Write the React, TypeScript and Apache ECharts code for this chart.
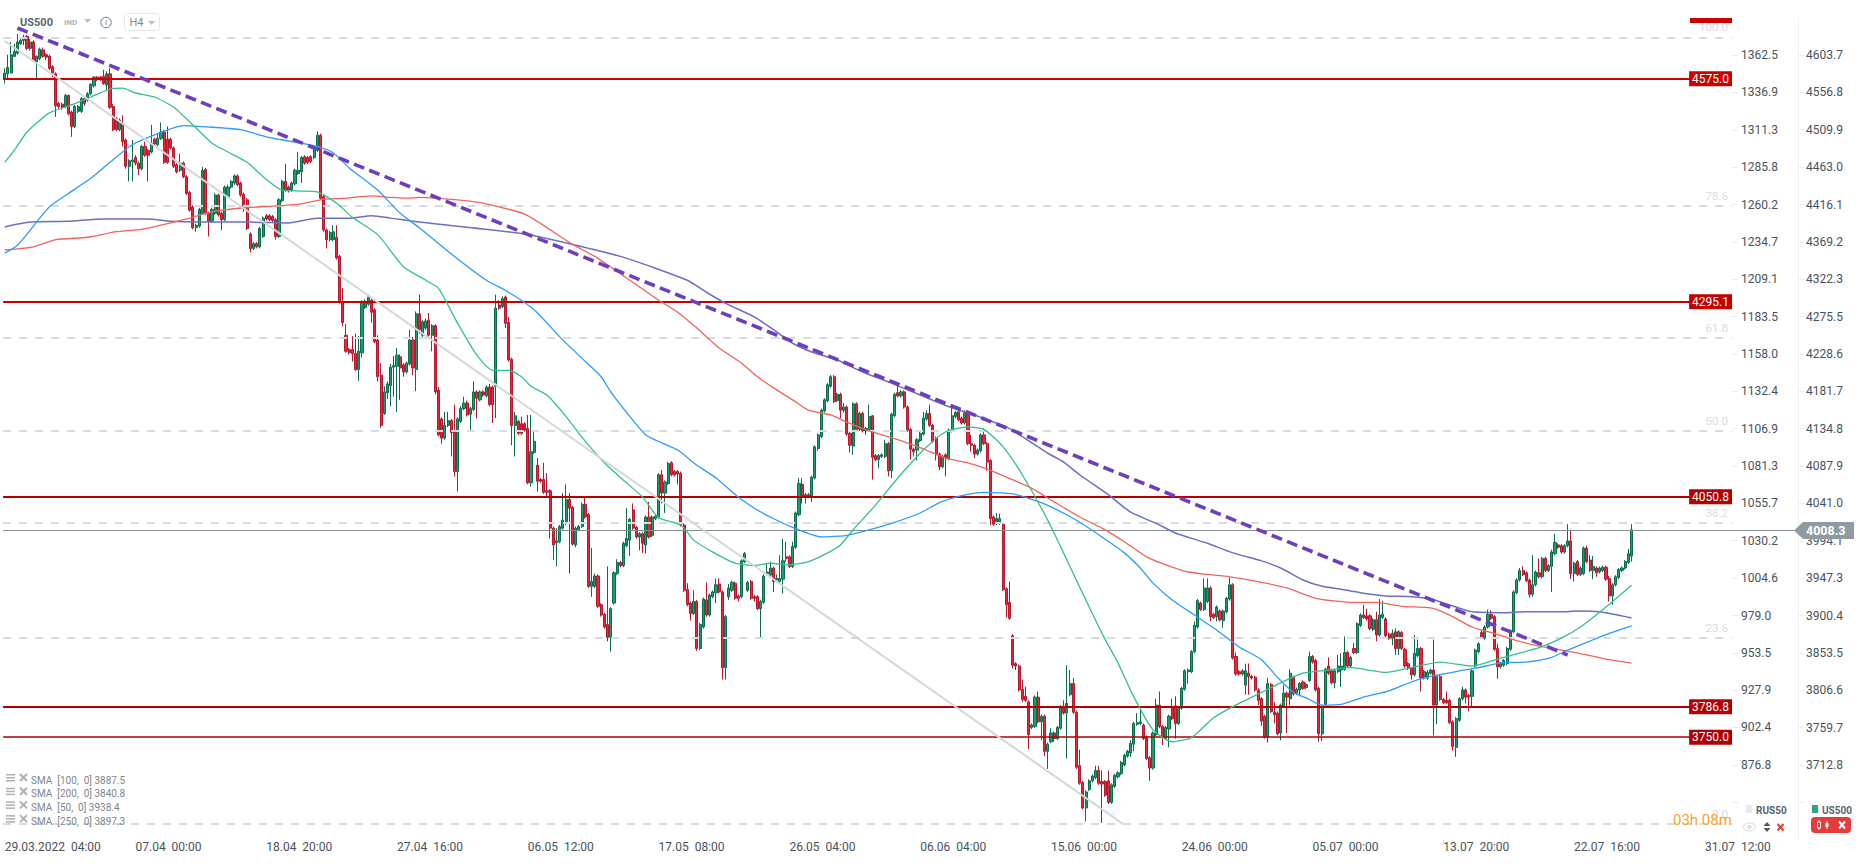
import React, { useEffect, useRef } from "react";
import * as echarts from "echarts";

// Each candle row: [open, close, low, high]
const candlesA = [
[4573,4581,4568,4587],[4580,4588,4574,4604],[4581,4604,4581,4620],[4602,4608,4601,4618],[4606,4620,4604,4630],[4618,4622,4616,4625],[4622,4626,4616,4629],[4627,4612,4610,4629],[4612,4620,4609,4624],[4620,4597,4595,4622],
[4595,4602,4574,4603],[4599,4611,4597,4613],[4610,4602,4600,4613],[4604,4601,4597,4606],[4602,4587,4585,4604],[4589,4581,4576,4591],[4580,4540,4526,4582],[4543,4539,4536,4545],[4542,4538,4535,4544],[4539,4553,4537,4555],
[4553,4530,4528,4554],[4532,4514,4501,4534],[4514,4539,4512,4541],[4533,4539,4531,4541],[4533,4549,4531,4551],[4549,4543,4540,4551],[4547,4555,4545,4557],[4555,4567,4553,4568],[4565,4576,4563,4577],[4576,4573,4571,4577],
[4576,4573,4571,4577],[4577,4568,4566,4585],[4566,4580,4560,4583],[4580,4538,4536,4587],[4539,4510,4508,4542],[4524,4510,4508,4526],[4510,4522,4508,4524],[4518,4495,4489,4528],[4497,4464,4461,4499],[4464,4471,4445,4473],
[4470,4472,4445,4497],[4475,4468,4465,4478],[4468,4461,4453,4470],[4461,4489,4459,4491],[4489,4478,4476,4495],[4484,4478,4445,4486],[4482,4493,4480,4516],[4498,4492,4490,4500],[4491,4499,4489,4505],[4499,4507,4497,4519],
[4507,4469,4467,4510],[4498,4469,4467,4514],[4498,4487,4485,4500],[4487,4464,4462,4489],[4466,4457,4455,4468],[4459,4468,4457,4480],[4468,4451,4449,4470],[4451,4430,4428,4453],[4431,4409,4407,4433],[4413,4387,4385,4415],
[4387,4390,4382,4392],[4389,4410,4387,4412],[4405,4459,4403,4463],[4460,4405,4403,4462],[4405,4395,4376,4407],[4395,4410,4393,4412],[4405,4428,4403,4430],[4428,4403,4401,4430],[4405,4397,4384,4407],[4397,4438,4395,4440],
[4426,4438,4424,4441],[4438,4445,4436,4447],[4443,4452,4441,4454],[4452,4441,4439,4454],[4443,4428,4426,4445],[4429,4411,4407,4431],[4422,4386,4384,4424],[4379,4361,4356,4381],[4361,4367,4359,4369],[4367,4363,4361,4369],
[4363,4386,4361,4388],[4376,4399,4374,4401],[4402,4398,4396,4404],[4402,4397,4395,4404],[4401,4396,4394,4403],[4397,4376,4372,4399],[4376,4422,4374,4424],[4421,4445,4419,4447],[4445,4434,4432,4467],[4438,4433,4431,4440],
[4434,4443,4432,4445],[4442,4459,4440,4461],[4455,4459,4453,4482],[4457,4475,4443,4477],[4476,4468,4466,4478],[4475,4469,4467,4477],[4476,4470,4468,4478],[4475,4486,4473,4488],[4484,4503,4482,4508],[4503,4424,4422,4505],
[4426,4384,4382,4428],[4384,4372,4361,4386],[4372,4381,4370,4383],[4372,4382,4370,4390],[4375,4349,4347,4390],[4351,4294,4292,4353],[4294,4268,4263,4311],[4252,4232,4230,4266],[4234,4230,4228,4236],[4234,4229,4219,4251],
[4229,4209,4207,4254],[4209,4232,4195,4251],[4230,4294,4224,4296],[4287,4294,4285,4297],[4291,4300,4289,4303],[4296,4281,4268,4298],[4284,4244,4242,4286],[4246,4200,4194,4252],[4202,4139,4136,4217],[4154,4181,4152,4188],
[4180,4191,4172,4194],[4189,4212,4163,4216],[4212,4214,4175,4226],[4213,4227,4156,4236],[4225,4211,4171,4228],[4215,4206,4200,4217],[4206,4217,4204,4219],[4216,4246,4214,4259],[4246,4211,4202,4250],[4209,4279,4182,4282],
[4279,4259,4254,4303],
];
const candlesB = [
[4252,4269,4250,4271],[4261,4270,4259,4273],[4271,4252,4250,4280],[4252,4264,4232,4266],[4264,4181,4178,4266],[4183,4127,4125,4187],[4147,4123,4116,4149],[4123,4139,4121,4156],[4139,4145,4137,4156],[4145,4130,4100,4147],
[4132,4081,4075,4165],[4081,4147,4056,4149],[4144,4160,4142,4163],[4160,4167,4158,4175],[4167,4152,4150,4170],[4153,4160,4133,4162],[4159,4181,4157,4194],[4181,4173,4148,4183],[4171,4181,4169,4183],[4181,4177,4175,4183],
[4176,4187,4174,4189],[4187,4165,4163,4191],[4187,4165,4142,4189],[4188,4286,4148,4303],[4290,4286,4284,4296],[4288,4298,4286,4301],[4300,4267,4261,4302],[4268,4221,4219,4275],[4222,4139,4114,4224],[4139,4151,4100,4156],
[4144,4129,4127,4146],[4141,4129,4127,4150],[4141,4133,4131,4143],[4135,4067,4065,4152],[4067,4106,4062,4152],[4105,4119,4103,4133],[4089,4069,4056,4098],[4071,4069,4067,4073],[4071,4055,4053,4092],[4057,4055,4050,4079],
[4057,4010,3997,4059],[4010,3989,3970,4012],[3992,3994,3962,4010],[3993,4012,3991,4014],[4010,4020,4008,4054],[4016,4046,4014,4065],[4046,4035,3953,4054],[4036,3990,3988,4038],[3989,4010,3986,4012],[4008,4012,4006,4014],
[4012,4040,4010,4042],[4040,4024,4022,4049],[4027,3937,3935,4029],[3937,3943,3924,3985],[3937,3950,3935,3953],[3950,3912,3910,3952],[3914,3901,3899,3916],[3902,3886,3884,3904],[3889,3873,3868,3962],[3873,3909,3855,3911],
[3916,3954,3914,3956],[3953,3967,3951,3971],[3967,3963,3961,3969],[3963,3991,3961,3993],[3988,3997,3986,4035],[3995,4021,3975,4023],[4033,4010,4008,4041],[4011,3999,3997,4013],[3999,4003,3982,4005],[4003,3991,3979,4005],
[3989,4024,3978,4026],[4024,3999,3997,4043],[4001,4024,3999,4026],[4022,4025,4020,4027],[4024,4077,4022,4079],[4077,4054,4041,4083],[4054,4068,4029,4070],[4066,4091,4064,4093],[4092,4077,4075,4094],[4081,4077,4075,4083],
[4081,4078,4065,4083],[4079,4014,4012,4081],[4014,3932,3930,4016],[3933,3914,3912,3941],[3916,3903,3894,3918],[3903,3918,3901,3932],[3918,3859,3856,3920],[3859,3889,3857,3891],[3886,3921,3884,3923],[3920,3901,3899,3942],
[3901,3926,3899,3928],[3924,3930,3922,3932],[3929,3939,3916,3947],[3940,3930,3928,3947],[3930,3835,3820,3932],[3835,3899,3820,3901],[3924,3935,3920,3940],[3932,3942,3930,3944],[3941,3922,3920,3943],[3925,3922,3918,3927],
[3924,3969,3922,3971],[3968,3978,3966,3980],[3932,3942,3930,3944],[3943,3922,3920,3945],[3924,3922,3918,3926],[3924,3909,3907,3926],[3909,3918,3873,3920],[3917,3950,3915,3952],[3953,3955,3951,3966],[3951,3960,3949,3968],
[3960,3943,3930,3962],[3945,3947,3943,3952],[3943,3947,3940,3976],[3946,3969,3928,3997],[3974,3972,3968,3993],[3974,3962,3960,3976],[3962,3987,3960,3993],[3986,4029,3984,4031],[4027,4066,4025,4073],[4065,4050,4041,4073],
[4050,4052,4041,4054],[4052,4050,4048,4054],[4050,4074,4043,4076],[4073,4112,4071,4114],[4110,4127,4107,4129],[4125,4158,4123,4160],[4157,4171,4155,4173],[4170,4190,4168,4192],[4188,4200,4186,4202],[4200,4169,4167,4202],
[4170,4178,4168,4180],[4178,4158,4148,4180],
];
const candlesC = [
[4158,4162,4155,4167],[4162,4128,4126,4164],[4129,4114,4105,4131],[4113,4166,4102,4168],[4166,4134,4132,4168],[4134,4154,4132,4156],[4154,4132,4130,4156],[4132,4135,4127,4137],[4134,4150,4132,4165],[4151,4099,4071,4152],
[4101,4096,4094,4103],[4096,4101,4085,4103],[4100,4102,4098,4104],[4100,4116,4098,4121],[4116,4082,4075,4118],[4082,4153,4073,4155],[4151,4178,4149,4180],[4180,4176,4174,4190],[4176,4181,4174,4183],[4181,4162,4160,4183],
[4162,4133,4131,4164],[4134,4109,4096,4136],[4109,4106,4100,4111],[4108,4121,4095,4123],[4120,4129,4118,4131],[4128,4148,4126,4156],[4147,4154,4145,4158],[4154,4139,4137,4165],[4139,4119,4117,4141],[4123,4102,4095,4125],
[4103,4087,4083,4105],[4087,4100,4085,4102],[4102,4098,4075,4104],[4097,4133,4095,4135],[4132,4151,4130,4162],[4150,4155,4148,4157],[4156,4146,4144,4158],[4148,4142,4140,4150],[4142,4155,4140,4158],[4155,4116,4114,4157],
[4116,4114,4106,4127],[4114,4103,4098,4116],[4103,4108,4101,4110],[4107,4127,4105,4129],[4127,4116,4114,4135],[4116,4093,4082,4118],[4095,4022,4014,4097],[4024,4015,4013,4026],[4016,4022,4014,4029],[4016,4022,4014,4028],
[4015,3933,3931,4017],[3934,3914,3898,3936],[3917,3897,3895,3943],[3875,3838,3834,3877],[3840,3837,3832,3842],[3837,3807,3805,3839],[3808,3795,3792,3820],[3799,3794,3792,3811],[3792,3751,3733,3794],[3760,3763,3758,3765],
[3761,3798,3759,3800],[3798,3767,3765,3805],[3767,3774,3744,3776],[3774,3730,3724,3776],[3730,3739,3708,3741],[3742,3753,3740,3759],[3753,3746,3742,3755],[3746,3760,3744,3762],[3759,3786,3757,3788],[3786,3778,3776,3794],
[3778,3790,3721,3838],[3801,3815,3799,3832],[3815,3779,3777,3822],[3779,3710,3708,3781],[3712,3690,3688,3732],[3691,3659,3657,3693],[3659,3679,3642,3681],[3682,3693,3680,3695],[3693,3699,3691,3701],[3697,3706,3695,3712],
[3706,3690,3688,3712],[3692,3689,3640,3706],[3692,3675,3673,3694],[3693,3666,3664,3706],[3666,3688,3664,3690],[3686,3700,3684,3702],[3698,3703,3696,3705],[3702,3716,3700,3718],[3713,3725,3711,3727],[3724,3730,3722,3732],
[3728,3740,3723,3744],[3739,3765,3730,3767],[3764,3766,3762,3778],[3765,3767,3763,3782],[3763,3746,3744,3765],[3748,3721,3719,3750],[3722,3709,3693,3724],[3709,3753,3707,3755],[3751,3788,3749,3796],[3788,3761,3759,3805],
[3761,3748,3738,3763],[3746,3760,3744,3762],[3758,3774,3735,3776],[3786,3771,3769,3796],[3787,3765,3746,3799],[3765,3784,3763,3786],[3784,3809,3782,3811],[3808,3831,3806,3833],[3830,3832,3815,3834],[3830,3855,3828,3857],
[3855,3888,3853,3893],[3886,3919,3884,3921],[3916,3908,3906,3918],[3908,3935,3906,3947],[3918,3935,3916,3947],[3935,3899,3893,3937],[3902,3898,3896,3904],[3899,3911,3893,3913],[3906,3895,3893,3908],[3894,3906,3885,3908],
[3905,3922,3903,3924],[3921,3939,3919,3948],[3939,3847,3845,3941],[3849,3827,3825,3854],[3830,3827,3825,3832],[3827,3831,3825,3833],[3813,3831,3801,3840],[3828,3824,3801,3840],[3824,3822,3820,3826],[3823,3807,3805,3825],
[3807,3794,3788,3809],
];
const candlesD = [
[3796,3768,3762,3798],[3774,3748,3746,3776],[3748,3815,3741,3822],[3814,3780,3778,3816],[3779,3776,3765,3792],[3778,3752,3750,3780],[3753,3788,3744,3790],[3786,3803,3784,3813],[3803,3798,3753,3805],[3796,3828,3788,3833],
[3823,3802,3800,3825],[3803,3808,3801,3810],[3807,3815,3799,3817],[3817,3809,3807,3819],[3810,3814,3808,3816],[3819,3849,3817,3855],[3849,3842,3840,3851],[3844,3807,3805,3846],[3809,3752,3742,3811],[3752,3786,3743,3788],
[3789,3833,3787,3835],[3837,3828,3826,3848],[3831,3816,3814,3833],[3816,3831,3809,3833],[3830,3837,3828,3851],[3832,3837,3811,3853],[3833,3854,3831,3874],[3854,3837,3835,3856],[3837,3848,3835,3850],[3859,3854,3852,3866],
[3854,3890,3852,3892],[3888,3901,3886,3903],[3901,3898,3896,3914],[3900,3896,3894,3909],[3900,3884,3882,3902],[3883,3895,3881,3897],[3895,3876,3868,3905],[3876,3901,3874,3921],[3898,3902,3896,3919],[3896,3875,3873,3898],
[3877,3872,3870,3879],[3872,3878,3863,3883],[3880,3859,3851,3884],[3859,3880,3851,3882],[3879,3859,3857,3881],[3858,3837,3835,3860],[3840,3834,3832,3842],[3834,3826,3820,3836],[3826,3853,3824,3876],[3850,3859,3848,3870],
[3859,3822,3805,3861],[3822,3830,3820,3832],[3822,3829,3820,3832],[3828,3832,3826,3834],[3832,3788,3750,3870],[3788,3824,3764,3826],[3824,3795,3793,3826],[3795,3791,3789,3797],[3794,3791,3789,3805],[3794,3766,3764,3796],
[3767,3736,3731,3769],[3735,3771,3723,3773],[3769,3796,3767,3798],[3796,3807,3794,3811],[3807,3798,3790,3809],[3800,3798,3780,3802],[3799,3831,3786,3833],[3837,3857,3835,3859],[3855,3865,3853,3867],[3879,3873,3871,3882],
[3872,3886,3870,3888],[3886,3902,3884,3908],[3902,3897,3895,3907],[3899,3858,3856,3901],[3859,3836,3821,3865],[3836,3840,3834,3842],[3838,3844,3836,3846],[3840,3859,3838,3861],[3858,3881,3856,3883],[3880,3930,3878,3932],
[3929,3945,3927,3947],[3945,3957,3943,3960],[3957,3952,3950,3962],[3954,3944,3942,3956],[3945,3927,3923,3947],[3927,3939,3924,3976],[3939,3955,3937,3957],[3954,3949,3947,3972],[3949,3972,3947,3974],[3972,3957,3955,3974],
[3957,3963,3955,3965],[3962,3980,3930,3983],[3978,3992,3976,4003],[3989,3986,3984,3991],[3988,3980,3978,3990],[3980,3988,3978,3990],[3988,3994,3986,4015],[3994,3953,3946,4007],[3953,3966,3943,3968],[3968,3952,3950,3970],
[3952,3960,3950,3962],[3953,3985,3951,3987],[3985,3968,3966,3988],[3970,3957,3955,3976],[3957,3962,3946,3975],[3960,3954,3949,3962],[3955,3960,3953,3962],[3957,3961,3955,3963],[3961,3946,3944,3963],[3947,3925,3918,3950],
[3925,3939,3914,3941],[3939,3949,3937,3951],[3948,3958,3946,3960],[3957,3960,3955,3962],[3960,3968,3958,3970],[3967,3978,3965,3984],[3975,4008,3968,4015],
];

// Moving averages: [candle index, value]
const sma50 = [[0,4469],[3,4484],[7,4507],[14,4531],[21,4541],[27,4551],[33,4561],[37,4562],[41,4556],[47,4551],[53,4538],[60,4512],[65,4493],[70,4482],[76,4469],[81,4451],[87,4434],[93,4433],[98,4432],[104,4418],[109,4400],[117,4378],[125,4338],[132,4321],[136,4311],[142,4267],[148,4227],[153,4208],[158,4208],[162,4200],[165,4188],[170,4177],[176,4150],[181,4124],[188,4092],[194,4070],[200,4049],[205,4023],[212,4014],[216,3995],[222,3980],[229,3966],[235,3963],[240,3966],[246,3964],[252,3968],[258,3979],[262,3989],[266,4008],[273,4039],[280,4073],[288,4108],[295,4131],[302,4137],[307,4134],[313,4112],[319,4077],[327,4020],[333,3970],[337,3936],[344,3878],[349,3841],[354,3798],[360,3757],[366,3742],[372,3747],[379,3772],[385,3786],[394,3804],[400,3816],[407,3828],[415,3832],[422,3835],[433,3829],[442,3836],[450,3842],[460,3837],[469,3847],[481,3860],[488,3872],[494,3886],[502,3911],[510,3938.4]];
const sma100 = [[0,4355],[4,4365],[10,4394],[14,4413],[20,4430],[27,4449],[33,4469],[40,4491],[48,4505],[56,4515],[65,4513],[74,4510],[82,4501],[93,4493],[98,4489],[103,4481],[108,4462],[117,4434],[124,4405],[130,4387],[140,4354],[151,4321],[158,4306],[166,4284],[174,4250],[181,4223],[187,4200],[190,4181],[196,4150],[201,4127],[206,4117],[211,4108],[217,4089],[223,4073],[230,4049],[235,4035],[240,4024],[247,4011],[256,3999],[262,4000],[264,4001],[271,4008],[278,4016],[287,4029],[293,4042],[299,4050],[307,4055],[316,4053],[325,4042],[336,4020],[344,3999],[351,3979],[356,3960],[360,3941],[366,3920],[373,3901],[380,3882],[387,3861],[394,3845],[399,3823],[404,3804],[408,3797],[413,3788],[419,3789],[426,3798],[434,3806],[441,3817],[446,3823],[455,3830],[462,3835],[469,3841],[477,3842],[485,3848],[490,3857],[498,3870],[503,3878],[510,3887.5]];
const sma200 = [[0,4359],[9,4363],[16,4372],[26,4375],[35,4382],[43,4385],[51,4392],[58,4399],[65,4407],[75,4412],[84,4414],[93,4417],[99,4422],[107,4424],[115,4427],[121,4425],[126,4424],[130,4425],[148,4419],[163,4404],[178,4366],[185,4351],[196,4321],[205,4296],[211,4281],[217,4261],[224,4236],[231,4217],[236,4200],[241,4186],[247,4171],[252,4158],[259,4152],[264,4143],[271,4132],[280,4121],[287,4111],[295,4098],[302,4092],[308,4084],[314,4074],[322,4060],[329,4043],[337,4024],[344,4010],[351,3993],[358,3974],[366,3961],[371,3955],[377,3952],[384,3949],[394,3942],[402,3935],[411,3922],[422,3917],[430,3917],[438,3912],[447,3910],[453,3901],[460,3886],[467,3878],[473,3870],[480,3863],[488,3857],[496,3851],[503,3845],[510,3840.8]];
const sma250 = [[0,4388],[8,4394],[20,4395],[31,4398],[45,4398],[52,4395],[61,4394],[77,4394],[89,4393],[98,4399],[108,4399],[115,4402],[121,4399],[130,4394],[163,4379],[193,4351],[214,4321],[220,4306],[226,4292],[235,4275],[241,4259],[247,4242],[253,4231],[261,4221],[269,4206],[278,4192],[287,4177],[295,4164],[306,4149],[314,4137],[322,4117],[327,4104],[332,4093],[337,4077],[346,4052],[353,4030],[361,4016],[367,4004],[377,3991],[385,3979],[394,3969],[400,3960],[407,3945],[413,3937],[418,3934],[425,3929],[433,3925],[441,3924],[447,3921],[455,3911],[460,3905],[470,3904],[477,3905],[488,3905],[493,3906],[500,3905],[510,3897.3]];

const trendLine = [[4,4637.6],[490,3850.9]];
const channelLine = [[0,4621.3],[351,3637.7]];

const usTicks = [4603.7,4556.8,4509.9,4463.0,4416.1,4369.2,4322.3,4275.5,4228.6,4181.7,4134.8,4087.9,4041.0,3994.1,3947.3,3900.4,3853.5,3806.6,3759.7,3712.8];
const rusTicks = [1362.5,1336.9,1311.3,1285.8,1260.2,1234.7,1209.1,1183.5,1158.0,1132.4,1106.9,1081.3,1055.7,1030.2,1004.6,979.0,953.5,927.9,902.4,876.8];
const usExtraTick = 3665.9;
const rusExtraTick = 851.2;

const xTickLabels = ["29.03.2022  04:00","07.04  00:00","18.04  20:00","27.04  16:00","06.05  12:00","17.05  08:00","26.05  04:00","06.06  04:00","15.06  00:00","24.06  00:00","05.07  00:00","13.07  20:00","22.07  16:00","31.07  12:00"];
const candlesPerLabel = 41;
const slotCount = 542;

const fibLevels = [4625.9,4414.8,4248.7,4132.0,4016.3,3872.2,3638.8];
const fibLabels = ["100.0","78.6","61.8","50.0","38.2","23.6","0.0"];

const levelValues = [4574,4294.1,4049.5,3786,3747.8];
const levelLabels = ["4575.0","4295.1","4050.8","3786.8","3750.0"];
const levelWidths = [2,2,2,2,1.5];
const levelColors = ["#cc0000","#c60000","#b40000","#b40000","#b00000"];

const currentPrice = 4007.3;
const currentLabel = "4008.3";

const smaLegend = ["SMA  [100,  0] 3887.5","SMA  [200,  0] 3840.8","SMA  [50,  0] 3938.4","SMA  [250,  0] 3897.3"];

const FONT = "Roboto";

function txt(text: string, x: number, y: number, fill: string, fontSize: number, extra: any = {}) {
  return { type: "text", z: 100, style: { text, x, y, fill, fontSize, fontFamily: FONT, verticalAlign: "middle", align: "left", ...extra } };
}
function ln(x1: number, y1: number, x2: number, y2: number, stroke: string, lineWidth = 1) {
  return { type: "line", z: 100, shape: { x1, y1, x2, y2 }, style: { stroke, lineWidth } };
}
function poly(points: number[][], fill: string) {
  return { type: "polygon", z: 100, shape: { points }, style: { fill } };
}
function box(x: number, y: number, width: number, height: number, fill: string, r = 0, stroke?: string) {
  return { type: "rect", z: 100, shape: { x, y, width, height, r }, style: { fill, stroke } };
}

function buildGraphic() {
  const g: any[] = [];
  g.push(txt("US500", 20, 22.5, "#59646e", 11, { fontWeight: "bold" }));
  g.push(txt("IND", 64, 22.5, "#a9b3ba", 8, { fontWeight: "bold" }));
  g.push(poly([[84, 19], [91, 19], [87.5, 23]], "#b8c0c6"));
  g.push({ type: "circle", z: 100, shape: { cx: 106, cy: 22.5, r: 5.2 }, style: { fill: "none", stroke: "#6b7680", lineWidth: 1 } });
  g.push(txt("i", 105, 22.5, "#6b7680", 8));
  g.push(box(124.5, 13.5, 35, 17, "#fff", 3, "#e6e9ec"));
  g.push(txt("H4", 129.5, 22.5, "#7f8a93", 11));
  g.push(poly([[148, 21], [155, 21], [151.5, 25]], "#b8c0c6"));
  g.push(box(1690, 18, 42, 5, "#cc0000"));

  smaLegend.forEach((s, k) => {
    const y = 780 + k * 13.7;
    g.push(box(6, y - 6, 9, 1.5, "#aab0b4"), box(6, y - 3, 9, 1.5, "#aab0b4"), box(6, y, 9, 1.5, "#aab0b4"));
    g.push(ln(20, y - 6, 27, y + 1, "#aab0b4", 2), ln(27, y - 6, 20, y + 1, "#aab0b4", 2));
    g.push(txt(s, 31, y, "#7d868c", 10));
  });

  g.push(txt("03h 08m", 1673, 820, "#f5a42f", 15));

  g.push(box(1746, 805, 6, 8, "#e8ecef"));
  g.push(txt("RUS50", 1756, 810, "#59646e", 10, { fontWeight: "bold" }));
  g.push({ type: "ellipse", z: 100, shape: { cx: 1749.5, cy: 827, rx: 6, ry: 4 }, style: { fill: "none", stroke: "#d5dadd", lineWidth: 1 } });
  g.push({ type: "circle", z: 100, shape: { cx: 1749.5, cy: 827, r: 2 }, style: { fill: "#d5dadd" } });
  g.push(poly([[1763.5, 826], [1770.5, 826], [1767, 822]], "#4e5a63"), poly([[1763.5, 828], [1770.5, 828], [1767, 832]], "#4e5a63"));
  g.push(ln(1777.5, 824, 1783.5, 830.5, "#e53b3b", 2), ln(1783.5, 824, 1777.5, 830.5, "#e53b3b", 2));

  g.push(box(1812, 805, 6, 8, "#26ab7a"));
  g.push(txt("US500", 1822, 810, "#59646e", 10, { fontWeight: "bold" }));
  g.push(box(1811, 817, 40, 16, "#e53b3b", 4));
  g.push(ln(1819, 820, 1819, 830, "#fff", 1), box(1817.5, 822, 3, 6, "#e53b3b", 0, "#fff"));
  g.push(ln(1827, 821, 1827, 829, "#fff", 1), box(1825.5, 823, 3, 4, "#fff"));
  g.push(ln(1839, 821.5, 1845, 828.5, "#fff", 2), ln(1845, 821.5, 1839, 828.5, "#fff", 2));

  g.push(poly([[1794, 530.5], [1803, 522], [1854, 522], [1854, 539], [1803, 539]], "#8f9b9e"));
  g.push(txt(currentLabel, 1806, 530.5, "#fff", 12.5, { fontWeight: "bold" }));
  return g;
}

export default function App() {
  const ref = useRef<HTMLDivElement>(null);
  useEffect(() => {
    document.body.style.margin = "0";
    const chart = echarts.init(ref.current!, undefined, { renderer: "svg" });
    const rows = [...candlesA, ...candlesB, ...candlesC, ...candlesD];
    const categories = Array.from({ length: slotCount }, (_, i) =>
      i % candlesPerLabel === 0 ? xTickLabels[i / candlesPerLabel] ?? "" : ""
    );
    const isLabel = (i: number) => i % candlesPerLabel === 0 && i / candlesPerLabel < xTickLabels.length;
    const tickLabel = { fontFamily: FONT, fontSize: 12, color: "#4a535b" };
    const tickStyle = { color: "#e9ebed", width: 1 };
    const smaSeries = (data: number[][], color: string, width = 1.3) => ({
      type: "line", data, xAxisIndex: 0, yAxisIndex: 1, showSymbol: false, symbol: "none", smooth: 0.2,
      lineStyle: { color, width }, z: 6, silent: true,
    });
    chart.setOption({
      animation: false,
      backgroundColor: "#ffffff",
      grid: [
        { left: 3.1, right: 134, top: 18, bottom: 26 },
        { left: 3.1, right: 72, top: 18, bottom: 26 },
      ],
      xAxis: [
        {
          type: "category", gridIndex: 0, data: categories, boundaryGap: true,
          axisLine: { show: false },
          axisTick: { show: true, alignWithLabel: true, interval: (i: number) => isLabel(i), length: 4, lineStyle: tickStyle },
          axisLabel: { ...tickLabel, interval: (i: number) => isLabel(i), align: "left", margin: 2, hideOverlap: false, showMinLabel: true, showMaxLabel: true },
          splitLine: { show: false },
        },
        { type: "value", gridIndex: 1, show: false, min: 0, max: 1 },
      ],
      yAxis: [
        {
          type: "value", gridIndex: 0, position: "right", min: 826.1, max: 1387.8, scale: true,
          axisLine: { show: false },
          axisTick: { show: true, length: 6, lineStyle: tickStyle, customValues: [...rusTicks, rusExtraTick] },
          axisLabel: { ...tickLabel, margin: 9, customValues: rusTicks, formatter: (v: number) => v.toFixed(1) },
          splitLine: { show: false },
        },
        {
          type: "value", gridIndex: 0, position: "right", offset: 66, min: 3620, max: 4650.1, scale: true,
          axisLine: { show: true, lineStyle: { color: "#eef0f2", width: 1 } },
          axisTick: { show: true, length: 6, lineStyle: tickStyle, customValues: [...usTicks, usExtraTick] },
          axisLabel: { ...tickLabel, margin: 8, customValues: usTicks, formatter: (v: number) => v.toFixed(1) },
          splitLine: { show: false },
        },
        { type: "value", gridIndex: 1, show: false, min: 3620, max: 4650.1, scale: true },
      ],
      series: [
        {
          type: "candlestick", xAxisIndex: 0, yAxisIndex: 1, data: rows, barWidth: 2.6, z: 2, silent: true,
          itemStyle: { color: "#1c9c6c", borderColor: "#0e6d4c", color0: "#e62a3c", borderColor0: "#b8182e", borderWidth: 1 },
        },
        smaSeries(sma250, "#6c70bf", 1.5),
        smaSeries(sma200, "#f2645e"),
        smaSeries(sma100, "#2e9bff"),
        smaSeries(sma50, "#35c08f"),
        {
          type: "line", data: channelLine, xAxisIndex: 0, yAxisIndex: 1, showSymbol: false, symbol: "none", z: 7, silent: true,
          lineStyle: { color: "#d2d8dc", width: 2 },
        },
        {
          type: "line", xAxisIndex: 0, yAxisIndex: 1, data: [], z: 8, silent: true,
          markLine: {
            silent: true, symbol: "none", animation: false, precision: 2,
            data: fibLevels.map((v, k) => ({
              yAxis: v,
              lineStyle: { color: "#d6dde1", width: 2, type: [8, 8] },
              label: { show: true, formatter: fibLabels[k], position: "insideEndTop", distance: [4, 4], color: "#d8dde1", fontFamily: FONT, fontSize: 11.5 },
            })),
          },
        },
        {
          type: "line", xAxisIndex: 0, yAxisIndex: 1, data: [], z: 9, silent: true,
          markLine: {
            silent: true, symbol: "none", animation: false, precision: 2,
            data: levelValues.map((v, k) => ({
              yAxis: v,
              lineStyle: { color: levelColors[k], width: levelWidths[k], type: "solid" },
              label: {
                show: true, formatter: levelLabels[k], position: "insideEnd", distance: 0, color: "#fff",
                backgroundColor: levelColors[k], lineHeight: 15, align: "right", padding: [0, 3, 0, 3],
                fontFamily: FONT, fontSize: 12,
              },
            })),
          },
        },
        {
          type: "line", xAxisIndex: 1, yAxisIndex: 2, data: [], z: 5, silent: true,
          markLine: {
            silent: true, symbol: "none", animation: false, precision: 2,
            data: [{ yAxis: currentPrice, lineStyle: { color: "#84908f", width: 1.2, type: "solid" }, label: { show: false } }],
          },
        },
        {
          type: "line", data: trendLine, xAxisIndex: 0, yAxisIndex: 1, showSymbol: false, symbol: "none", z: 10, silent: true,
          lineStyle: { color: "#6c3fc0", width: 3.6, type: [11, 5.5] },
        },
      ],
      graphic: buildGraphic(),
    });
    return () => chart.dispose();
  }, []);
  return <div ref={ref} style={{ width: 1866, height: 865, overflow: "hidden" }} />;
}
